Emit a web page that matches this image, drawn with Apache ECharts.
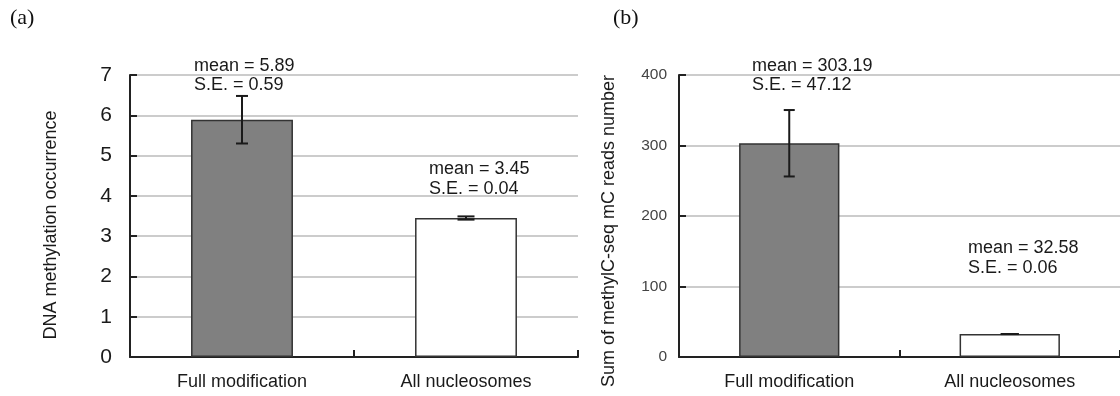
<!DOCTYPE html>
<html><head><meta charset="utf-8">
<script src="https://cdn.jsdelivr.net/npm/echarts@6/dist/echarts.min.js"></script>
<style>html,body{margin:0;padding:0;background:#fff}#c{width:1120px;height:396px}</style>
</head><body><div id="c"></div>
<script>
const categories = ['Full modification', 'All nucleosomes'];
const meanA = [5.89, 3.45];
const seA = [0.59, 0.04];
const meanB = [303.19, 32.58];
const seB = [47.12, 0.06];
const barColors = ['#808080', '#ffffff'];
const yNameA = 'DNA methylation occurrence';
const yNameB = 'Sum of methylC-seq mC reads number';

const FONT = '"Liberation Sans", Arial, Helvetica, sans-serif';
const chart = echarts.init(document.getElementById('c'), null, {renderer: 'canvas'});

function errSeries(idx, means, ses, caps) {
  return {
    type: 'custom', xAxisIndex: idx, yAxisIndex: idx, z: 5, clip: false,
    data: means.map((m, i) => [i, m, ses[i]]),
    renderItem: function (params, api) {
      const i = api.value(0), m = api.value(1), s = api.value(2);
      const top = api.coord([i, m + s]);
      const bot = api.coord([i, m - s]);
      const hw = caps[i] / 2;
      const st = {stroke: '#1a1a1a', lineWidth: 2};
      return {type: 'group', children: [
        {type: 'line', shape: {x1: top[0], y1: top[1], x2: bot[0], y2: bot[1]}, style: st},
        {type: 'line', shape: {x1: top[0] - hw, y1: top[1], x2: top[0] + hw, y2: top[1]}, style: st},
        {type: 'line', shape: {x1: bot[0] - hw, y1: bot[1], x2: bot[0] + hw, y2: bot[1]}, style: st}
      ]};
    }
  };
}

function xAx(idx) {
  return {
    type: 'category', gridIndex: idx, data: categories, boundaryGap: true,
    axisLine: {show: true, lineStyle: {color: '#222', width: 2}},
    axisTick: {show: true, inside: true, length: 7, interval: 0, lineStyle: {color: '#222', width: 2}},
    axisLabel: {fontSize: 18, color: '#1a1a1a', fontFamily: FONT, margin: 16, interval: 0},
    splitLine: {show: false}
  };
}

function ann(x, y, text) {
  return {type: 'text', left: x, top: y - 10, style: {text: text, font: '18px ' + FONT, fill: '#1a1a1a'}};
}

const option = {
  animation: false,
  backgroundColor: '#fff',
  grid: [
    {left: 130, top: 75, width: 448, height: 282},
    {left: 679, top: 75, width: 442, height: 282}
  ],
  xAxis: [xAx(0), xAx(1)],
  yAxis: [
    {
      type: 'value', gridIndex: 0, min: 0, max: 7, interval: 1,
      name: yNameA, nameLocation: 'middle', nameGap: 70, nameRotate: 90,
      nameTextStyle: {fontSize: 18, color: '#1a1a1a', fontFamily: FONT, padding: [0, 18, 0, 0]},
      axisLine: {show: true, lineStyle: {color: '#222', width: 2}},
      axisTick: {show: true, inside: true, length: 7, lineStyle: {color: '#222', width: 2}},
      axisLabel: {fontSize: 21, color: '#1a1a1a', fontFamily: FONT, margin: 18},
      splitLine: {show: true, lineStyle: {color: '#cccccc', width: 2}}
    },
    {
      type: 'value', gridIndex: 1, min: 0, max: 400, interval: 100,
      name: yNameB, nameLocation: 'middle', nameGap: 61, nameRotate: 90,
      nameTextStyle: {fontSize: 18, color: '#1a1a1a', fontFamily: FONT, padding: [0, 30, 0, 0]},
      axisLine: {show: true, lineStyle: {color: '#222', width: 2}},
      axisTick: {show: true, inside: true, length: 7, lineStyle: {color: '#222', width: 2}},
      axisLabel: {fontSize: 15.5, color: '#444', fontFamily: FONT, margin: 12},
      splitLine: {show: true, lineStyle: {color: '#cccccc', width: 2}}
    }
  ],
  series: [
    {
      type: 'bar', xAxisIndex: 0, yAxisIndex: 0, barWidth: '45.5%', z: 3,
      data: meanA.map((v, i) => ({value: v, itemStyle: {color: barColors[i]}})),
      itemStyle: {borderColor: '#333', borderWidth: 1.5}
    },
    {
      type: 'bar', xAxisIndex: 1, yAxisIndex: 1, barWidth: '45.5%', z: 3,
      data: meanB.map((v, i) => ({value: v, itemStyle: {color: barColors[i]}})),
      itemStyle: {borderColor: '#333', borderWidth: 1.5}
    },
    errSeries(0, meanA, seA, [12, 17]),
    errSeries(1, meanB, seB, [11, 18])
  ],
  graphic: [
    {type: 'text', left: 10, top: 7, style: {text: '(a)', font: '22px "Liberation Serif", "Times New Roman", serif', fill: '#111'}},
    {type: 'text', left: 613, top: 7, style: {text: '(b)', font: '22px "Liberation Serif", "Times New Roman", serif', fill: '#111'}},
    ann(194, 67, 'mean = ' + meanA[0].toFixed(2)),
    ann(194, 86, 'S.E. = ' + seA[0].toFixed(2)),
    ann(429, 170, 'mean = ' + meanA[1].toFixed(2)),
    ann(429, 190, 'S.E. = ' + seA[1].toFixed(2)),
    ann(752, 67, 'mean = ' + meanB[0].toFixed(2)),
    ann(752, 86, 'S.E. = ' + seB[0].toFixed(2)),
    ann(968, 249, 'mean = ' + meanB[1].toFixed(2)),
    ann(968, 269, 'S.E. = ' + seB[1].toFixed(2))
  ]
};
chart.setOption(option);
</script></body></html>
